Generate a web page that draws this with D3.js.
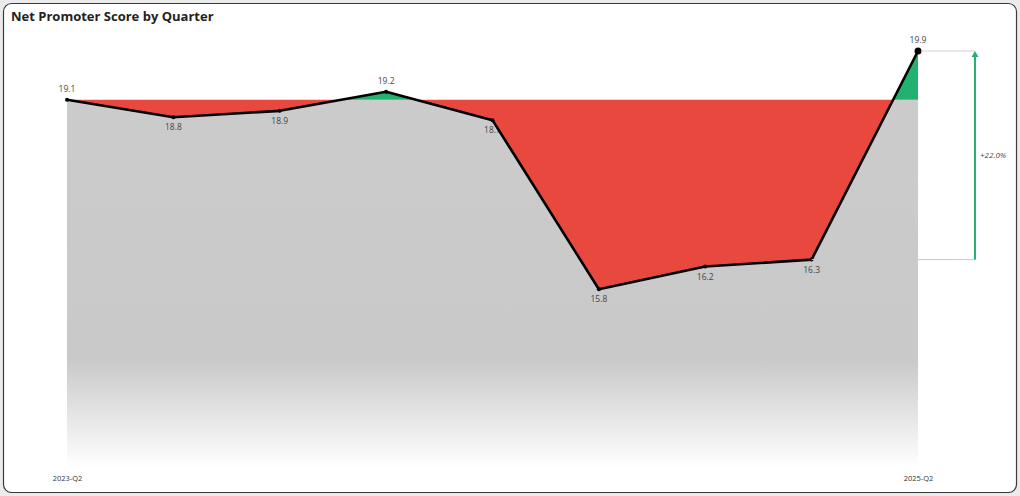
<!DOCTYPE html>
<html>
<head>
<meta charset="utf-8">
<script src="https://cdn.jsdelivr.net/npm/d3@7"></script>
<style>
  html, body { margin: 0; padding: 0; background: #ebebeb; }
  svg { display: block; font-family: "Open Sans", "Noto Sans", sans-serif; }
</style>
</head>
<body>
<svg id="chart" width="1020" height="496"></svg>
<script>
const quarters = ["2023-Q2", "2023-Q3", "2023-Q4", "2024-Q1", "2024-Q2", "2024-Q3", "2024-Q4", "2025-Q1", "2025-Q2"];
const npsValues = [19.06, 18.76, 18.87, 19.2, 18.71, 15.8, 16.19, 16.31, 19.9];
const tickLabels = ["2023-Q2", "2025-Q2"];

const W = 1020, H = 496;
const margin = { top: 51, right: 102, bottom: 29, left: 67 };
const svg = d3.select("#chart");

const data = quarters.map((q, i) => ({ q, v: npsValues[i] }));
const baseline = npsValues[0];
const last = data[data.length - 1];
const low = data[data.length - 2];

// card
svg.append("rect")
  .attr("x", 3.5).attr("y", 3.5)
  .attr("width", W - 7).attr("height", H - 7)
  .attr("rx", 8)
  .attr("fill", "#fff")
  .attr("stroke", "#3a3a3a")
  .attr("stroke-width", 1.2);

svg.append("text")
  .attr("x", 11).attr("y", 21)
  .attr("font-size", 13).attr("font-weight", 700)
  .attr("fill", "#222")
  .text("Net Promoter Score by Quarter");

const x = d3.scalePoint().domain(quarters).range([margin.left, W - margin.right]);
const y = d3.scaleLinear().domain([12.74, 19.9]).range([H - margin.bottom, margin.top]);

const defs = svg.append("defs");
const grad = defs.append("linearGradient")
  .attr("id", "fade")
  .attr("gradientUnits", "userSpaceOnUse")
  .attr("x1", 0).attr("x2", 0)
  .attr("y1", y(19.9)).attr("y2", y.range()[0]);
grad.append("stop").attr("offset", 0).attr("stop-color", "#cccccc");
grad.append("stop").attr("offset", 0.74).attr("stop-color", "#c9c9c9");
grad.append("stop").attr("offset", 1).attr("stop-color", "#ffffff");

// gray area under the line
svg.append("path")
  .datum(data)
  .attr("fill", "url(#fade)")
  .attr("d", d3.area().x(d => x(d.q)).y0(y.range()[0]).y1(d => y(d.v)));

// value labels (drawn under the fills, like the original)
svg.append("g").selectAll("text")
  .data(data)
  .join("text")
  .attr("x", d => x(d.q))
  .attr("y", d => d.v >= baseline ? y(d.v) - 8 : y(d.v) + 13)
  .attr("text-anchor", "middle")
  .attr("font-size", 8.5)
  .attr("fill", "#444")
  .text(d => d.v.toFixed(1));

// red below baseline, green above
const clipBelow = defs.append("clipPath").attr("id", "below");
clipBelow.append("rect")
  .attr("x", 0).attr("y", y(baseline)).attr("width", W).attr("height", H);
const clipAbove = defs.append("clipPath").attr("id", "above");
clipAbove.append("rect")
  .attr("x", 0).attr("y", 0).attr("width", W).attr("height", y(baseline));

const diffArea = d3.area().x(d => x(d.q)).y0(y(baseline)).y1(d => y(d.v));
svg.append("path").datum(data)
  .attr("clip-path", "url(#below)")
  .attr("fill", "#e8483e")
  .attr("d", diffArea);
svg.append("path").datum(data)
  .attr("clip-path", "url(#above)")
  .attr("fill", "#22b16e")
  .attr("d", diffArea);

// line + points
svg.append("path").datum(data)
  .attr("fill", "none")
  .attr("stroke", "#000")
  .attr("stroke-width", 2.6)
  .attr("stroke-linejoin", "round")
  .attr("d", d3.line().x(d => x(d.q)).y(d => y(d.v)));

svg.append("g").selectAll("circle")
  .data(data)
  .join("circle")
  .attr("cx", d => x(d.q))
  .attr("cy", d => y(d.v))
  .attr("r", (d, i) => i === data.length - 1 ? 3.5 : 2)
  .attr("fill", "#000");

// change annotation
const ax = x(last.q) + 57;
svg.append("line")
  .attr("x1", x(last.q) + 3).attr("x2", ax)
  .attr("y1", y(last.v)).attr("y2", y(last.v))
  .attr("stroke", "#d0d0d0").attr("stroke-width", 1);
svg.append("line")
  .attr("x1", x(low.q)).attr("x2", ax)
  .attr("y1", y(low.v)).attr("y2", y(low.v))
  .attr("stroke", "#c8c8c8").attr("stroke-width", 1);
svg.append("line")
  .attr("x1", ax).attr("x2", ax)
  .attr("y1", y(low.v)).attr("y2", y(last.v) + 5)
  .attr("stroke", "#22b16e").attr("stroke-width", 2);
svg.append("path")
  .attr("d", `M${ax - 3.5},${y(last.v) + 6} L${ax},${y(last.v)} L${ax + 3.5},${y(last.v) + 6} Z`)
  .attr("fill", "#22b16e");
const pct = (last.v - low.v) / low.v * 100;
svg.append("text")
  .attr("x", ax + 5)
  .attr("y", (y(low.v) + y(last.v)) / 2 + 3)
  .attr("font-size", 8)
  .attr("font-style", "italic")
  .attr("fill", "#444")
  .text(`+${pct.toFixed(1)}%`);

// x axis: only first and last tick
const xAxis = d3.axisBottom(x).tickValues(tickLabels).tickSize(0).tickPadding(0);
svg.append("g")
  .attr("transform", `translate(0,${H - 20})`)
  .call(xAxis)
  .call(g => g.select(".domain").remove())
  .selectAll("text")
  .attr("font-size", 7.5)
  .attr("font-family", "Open Sans, sans-serif")
  .attr("fill", "#333");
</script>
</body>
</html>
